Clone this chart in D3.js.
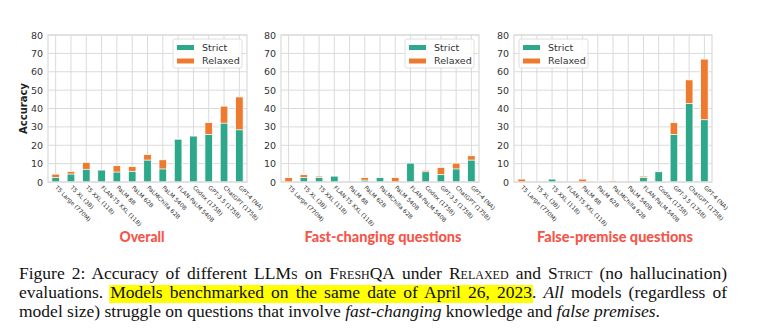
<!DOCTYPE html>
<html>
<head>
<meta charset="utf-8">
<script src="https://cdn.jsdelivr.net/npm/d3@7"></script>
<style>
  html, body { margin: 0; padding: 0; background: #fff; }
  svg { display: block; }
</style>
</head>
<body>
<svg id="chart" width="759" height="330"></svg>
<script>
// ---------- data ----------
const categories = ["T5 Large (770M)", "T5 XL (3B)", "T5 XXL (11B)", "FLAN-T5 XXL (11B)",
  "PaLM 8B", "PaLM 62B", "PaLMChilla 62B", "PaLM 540B", "FLAN-PaLM 540B",
  "Codex (175B)", "GPT-3.5 (175B)", "ChatGPT (175B)", "GPT-4 (NA)"];
const yTicks = [0, 10, 20, 30, 40, 50, 60, 70, 80];
const seriesNames = ["Strict", "Relaxed"];
const panelTitles = ["Overall", "Fast-changing questions", "False-premise questions"];

const overallStrict  = [2.5, 4.3, 6.9, 6.5, 5.4, 5.8, 11.9, 7.1, 23.3, 25.0, 25.9, 32.0, 28.4];
const overallRelaxed = [4.3, 5.8, 10.7, 6.5, 8.9, 8.5, 15.0, 12.1, 23.3, 25.0, 32.4, 41.3, 46.3];
const fastStrict     = [0, 2.4, 2.4, 3.2, 0, 1.0, 2.4, 0, 10.3, 5.6, 4.0, 7.1, 11.9];
const fastRelaxed    = [2.4, 4.0, 3.2, 3.2, 0, 2.4, 2.4, 2.4, 10.3, 6.4, 8.0, 10.3, 14.3];
const falseStrict    = [0, 0, 1.6, 0, 0, 0, 0, 0, 2.4, 5.6, 25.8, 42.7, 33.9];
const falseRelaxed   = [1.6, 0, 1.6, 0, 1.6, 0.4, 0.8, 0, 3.2, 5.6, 32.3, 55.6, 66.9];

// ---------- layout ----------
const svg = d3.select("#chart");
const GREEN = "#2ea88b", ORANGE = "#ee7a30", GRID = "#dadada", TXT = "#333";
const yTop = 35, yBot = 182;
const panels = [
  { x0: 48,  x1: 247, strict: overallStrict, relaxed: overallRelaxed, legend: "right", ylabel: true,  tx: 142, tw: 45 },
  { x0: 281, x1: 479, strict: fastStrict,    relaxed: fastRelaxed,    legend: "right", ylabel: false, tx: 383, tw: 157 },
  { x0: 514, x1: 712, strict: falseStrict,   relaxed: falseRelaxed,   legend: "left",  ylabel: false, tx: 615, tw: 156 }
];

const y = d3.scaleLinear().domain([0, 80]).range([yBot, yTop]);

panels.forEach((p, pi) => {
  const g = svg.append("g");
  const x = d3.scaleBand().domain(categories).range([p.x0, p.x1]).padding(0);
  const bw = x.bandwidth() * 0.5;

  g.selectAll(".hg").data(yTicks).join("line")
    .attr("x1", p.x0).attr("x2", p.x1)
    .attr("y1", d => y(d)).attr("y2", d => y(d))
    .attr("stroke", GRID).attr("stroke-width", 1);
  g.selectAll(".vg").data(categories).join("line")
    .attr("x1", d => x(d) + x.bandwidth() / 2).attr("x2", d => x(d) + x.bandwidth() / 2)
    .attr("y1", yTop).attr("y2", yBot)
    .attr("stroke", GRID).attr("stroke-width", 1);

  g.selectAll(".rb").data(categories).join("rect")
    .attr("x", d => x(d) + x.bandwidth() / 2 - bw / 2)
    .attr("width", bw)
    .attr("y", (d, i) => y(p.relaxed[i]))
    .attr("height", (d, i) => y(0) - y(p.relaxed[i]))
    .attr("fill", ORANGE).attr("stroke", "#fff").attr("stroke-width", 0.8);
  g.selectAll(".sb").data(categories).join("rect")
    .attr("x", d => x(d) + x.bandwidth() / 2 - bw / 2)
    .attr("width", bw)
    .attr("y", (d, i) => y(p.strict[i]))
    .attr("height", (d, i) => y(0) - y(p.strict[i]))
    .attr("fill", GREEN).attr("stroke", "#fff").attr("stroke-width", 0.8);

  g.append("rect").attr("x", p.x0).attr("y", yTop)
    .attr("width", p.x1 - p.x0).attr("height", yBot - yTop)
    .attr("fill", "none").attr("stroke", GRID).attr("stroke-width", 1.2);

  const yAxis = d3.axisLeft(y).tickValues(yTicks).tickSize(0).tickPadding(5);
  const ya = g.append("g").attr("transform", `translate(${p.x0},0)`).call(yAxis);
  ya.select(".domain").remove();
  ya.selectAll("text").attr("font-family", "DejaVu Sans").attr("font-size", 9.5).attr("fill", TXT);

  const xAxis = d3.axisBottom(x).tickSize(0).tickPadding(0);
  const xa = g.append("g").attr("transform", `translate(0,${yBot})`).call(xAxis);
  xa.select(".domain").remove();
  xa.selectAll("text")
    .attr("font-family", "DejaVu Sans").attr("font-size", 5.8).attr("fill", TXT)
    .attr("text-anchor", "start").attr("dy", null).attr("y", null)
    .attr("transform", "translate(-1,6) rotate(45)");

  if (p.ylabel) {
    g.append("text").attr("transform", `translate(27,${(yTop + yBot) / 2}) rotate(-90)`)
      .attr("text-anchor", "middle").attr("font-family", "DejaVu Sans")
      .attr("font-weight", "bold").attr("font-size", 10).attr("fill", "#222")
      .text("Accuracy");
  }

  const lw = 69, lh = 29;
  const lx = p.legend === "right" ? p.x1 - 5 - lw : p.x0 + 5;
  const ly = 39;
  const lg = g.append("g").attr("transform", `translate(${lx},${ly})`);
  lg.append("rect").attr("width", lw).attr("height", lh).attr("rx", 2)
    .attr("fill", "#fff").attr("fill-opacity", 0.85).attr("stroke", "#d6d6d6").attr("stroke-width", 0.8);
  seriesNames.forEach((s, i) => {
    lg.append("rect").attr("x", 4).attr("y", 6 + i * 13.5).attr("width", 17).attr("height", 5)
      .attr("fill", i === 0 ? GREEN : ORANGE);
    lg.append("text").attr("x", 29).attr("y", 8.5 + i * 13.5).attr("dy", "0.35em")
      .attr("font-family", "DejaVu Sans").attr("font-size", 9.5).attr("fill", TXT).text(s);
  });

  svg.append("text").attr("x", p.tx).attr("y", 242).attr("text-anchor", "middle")
    .attr("font-family", "Lato").attr("font-weight", 900).attr("font-size", 14.5)
    .attr("fill", "#f5564b").attr("textLength", p.tw).attr("lengthAdjust", "spacingAndGlyphs")
    .text(panelTitles[pi]);
});

// ---------- caption ----------
const captionLines = [
  { y: 279, justify: true, segs: [
    ["Figure 2: Accuracy of different ", ""], ["LLMs", "sc"], [" on ", ""], ["FreshQA", "sc"],
    [" under ", ""], ["Relaxed", "sc"], [" and ", ""], ["Strict", "sc"], [" (no hallucination)", ""]] },
  { y: 298, justify: true, segs: [
    ["evaluations. ", ""], ["Models benchmarked on the same date of April 26, 2023", "hl"], [". ", ""],
    ["All", "i"], [" models (regardless of", ""]] },
  { y: 317, justify: false, segs: [
    ["model size) struggle on questions that involve ", ""], ["fast-changing", "i"],
    [" knowledge and ", ""], ["false premises", "i"], [".", ""]] }
];
const capX0 = 19, capX1 = 727;
const capG = svg.append("g");
captionLines.forEach(line => {
  const hlLayer = capG.append("g");
  const t = capG.append("text").attr("x", capX0).attr("y", line.y)
    .attr("font-family", "Liberation Serif, Times New Roman, serif").attr("font-size", 17.5).attr("fill", "#111")
    .style("white-space", "pre");
  let idx = 0, hlStart = -1, hlEnd = -1;
  line.segs.forEach(([s, st]) => {
    const ts = t.append("tspan").text(s);
    if (st === "sc") ts.style("font-variant", "small-caps");
    if (st === "i") ts.attr("font-style", "italic");
    if (st === "hl") { hlStart = idx; hlEnd = idx + s.length - 1; }
    idx += s.length;
  });
  if (line.justify) {
    const full = line.segs.map(d => d[0]).join("");
    const spaces = (full.match(/ /g) || []).length;
    const nat = t.node().getComputedTextLength();
    t.attr("word-spacing", (capX1 - capX0 - nat) / spaces);
  }
  if (hlStart >= 0) {
    const n = t.node();
    const a = n.getStartPositionOfChar(hlStart).x;
    const b = n.getEndPositionOfChar(hlEnd).x;
    hlLayer.append("rect").attr("x", a - 1).attr("y", line.y - 13).attr("width", b - a + 2).attr("height", 18)
      .attr("fill", "#ffff00");
  }
});
</script>
</body>
</html>
